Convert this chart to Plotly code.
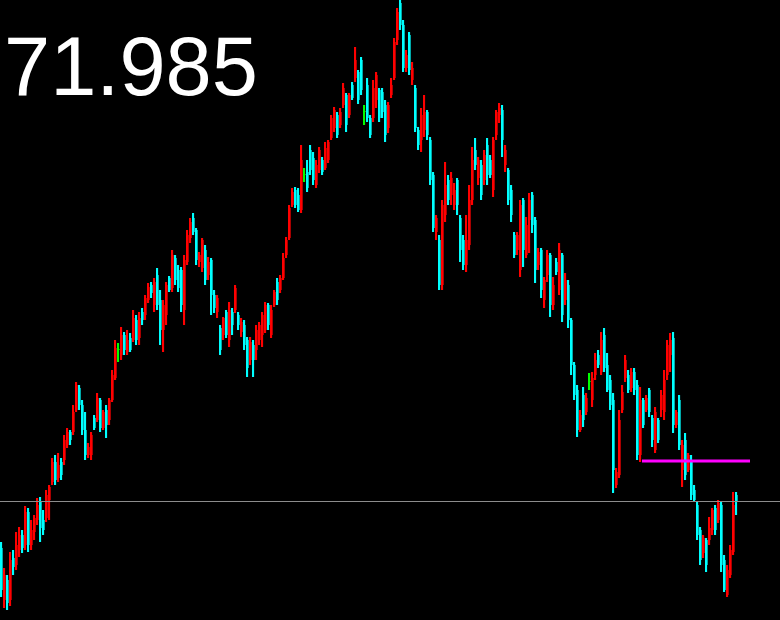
import plotly.graph_objects as go

# OHLC prices, one value per candle (246 candles)
open_ = [
    71.52, 71.00, 71.20, 71.00, 71.42, 71.35, 71.50, 71.65, 71.55, 71.88,
    71.55, 71.68, 71.80, 71.98, 71.80, 71.82, 72.00, 72.18, 72.38, 72.22,
    72.38, 72.40, 72.55, 72.68, 72.68, 72.90, 73.12, 72.95, 72.70, 72.45,
    72.45, 72.82, 72.80, 73.00, 72.72, 72.90, 72.80, 73.00, 73.22, 73.50,
    73.45, 73.65, 73.48, 73.62, 73.60, 73.80, 73.62, 73.88, 73.85, 74.00,
    74.15, 73.95, 74.25, 74.00, 73.70, 73.85, 74.22, 74.12, 74.42, 74.30,
    74.30, 73.90, 74.38, 74.62, 74.82, 74.70, 74.38, 74.32, 74.50, 74.25,
    74.40, 74.05, 73.88, 73.72, 73.65, 73.88, 73.60, 73.88, 73.90, 73.85,
    73.68, 73.75, 73.60, 73.40, 73.55, 73.50, 73.60, 73.65, 73.70, 73.95,
    73.65, 73.95, 74.18, 74.10, 74.22, 74.45, 74.62, 74.95, 75.10, 75.05,
    74.90, 75.25, 75.28, 75.50, 75.42, 75.15, 75.30, 75.40, 75.32, 75.40,
    75.62, 75.72, 75.85, 75.75, 75.95, 76.05, 75.85, 76.15, 76.22, 76.28,
    76.40, 75.88, 76.15, 75.82, 75.82, 76.00, 76.10, 76.08, 75.95, 75.72,
    76.05, 76.22, 76.60, 76.97, 76.75, 76.32, 76.65, 76.20, 76.12, 75.70,
    75.60, 75.70, 75.88, 75.60, 75.25, 74.68, 74.60, 74.15, 74.85, 75.20,
    75.05, 74.95, 75.20, 74.82, 74.60, 74.35, 74.55, 75.00, 75.50, 75.22,
    75.35, 75.20, 75.55, 75.40, 75.10, 75.65, 75.85, 75.90, 75.35, 75.30,
    75.10, 74.65, 74.50, 74.30, 75.00, 74.45, 74.80, 75.05, 74.80, 74.35,
    74.50, 74.00, 74.25, 74.45, 73.95, 74.38, 74.10, 74.45, 74.00, 74.15,
    73.80, 73.35, 73.10, 72.70, 73.05, 72.88, 73.18, 73.00, 73.25, 73.45,
    73.28, 73.65, 73.35, 73.20, 73.00, 72.15, 72.25, 72.90, 73.22, 73.25,
    73.12, 73.28, 73.15, 72.45, 73.00, 72.90, 73.10, 72.82, 72.50, 72.80,
    72.90, 72.88, 73.25, 73.45, 73.62, 72.75, 73.00, 72.30, 72.60, 72.30,
    72.40, 72.10, 71.95, 71.70, 71.47, 71.60, 71.60, 71.70, 71.92, 71.80,
    71.95, 71.40, 71.05, 71.25, 71.48, 72.05,
]
high = [
    71.58, 71.32, 71.25, 71.48, 71.50, 71.68, 71.73, 71.70, 71.94, 71.92,
    71.80, 71.85, 72.02, 72.03, 71.90, 72.10, 72.15, 72.42, 72.45, 72.47,
    72.42, 72.65, 72.72, 72.70, 72.95, 73.18, 73.15, 73.00, 72.88, 72.57,
    72.68, 72.85, 73.07, 73.02, 72.90, 72.95, 73.02, 73.30, 73.60, 73.57,
    73.73, 73.68, 73.70, 73.67, 73.90, 73.85, 73.88, 73.92, 74.05, 74.17,
    74.18, 74.22, 74.32, 74.10, 74.00, 74.18, 74.24, 74.50, 74.45, 74.35,
    74.33, 74.45, 74.70, 74.82, 74.87, 74.72, 74.48, 74.62, 74.55, 74.43,
    74.42, 74.10, 74.05, 73.75, 73.83, 73.90, 73.98, 73.92, 74.15, 73.88,
    73.82, 73.80, 73.63, 73.63, 73.60, 73.75, 73.78, 73.88, 73.98, 73.97,
    73.95, 74.10, 74.22, 74.25, 74.47, 74.63, 74.95, 75.12, 75.13, 75.12,
    75.55, 75.32, 75.40, 75.55, 75.48, 75.40, 75.53, 75.43, 75.58, 75.60,
    75.85, 75.93, 75.88, 75.92, 76.17, 76.07, 76.07, 76.18, 76.53, 76.30,
    76.43, 75.95, 76.22, 75.85, 76.20, 76.28, 76.12, 76.12, 76.00, 75.98,
    76.22, 76.62, 76.92, 77.00, 76.80, 76.50, 76.68, 76.38, 76.15, 75.73,
    75.92, 76.05, 75.90, 75.63, 75.28, 74.85, 74.65, 75.00, 75.38, 75.25,
    75.28, 75.17, 75.22, 74.85, 74.65, 74.85, 75.15, 75.53, 75.62, 75.43,
    75.40, 75.50, 75.62, 75.45, 75.63, 75.90, 75.97, 75.95, 75.55, 75.32,
    75.15, 74.68, 74.68, 75.00, 75.02, 74.83, 75.07, 75.08, 74.83, 74.52,
    74.52, 74.23, 74.50, 74.47, 74.23, 74.42, 74.57, 74.47, 74.27, 74.20,
    73.82, 73.38, 73.15, 72.90, 73.13, 73.07, 73.27, 73.28, 73.47, 73.50,
    73.68, 73.72, 73.47, 73.25, 73.07, 72.32, 72.90, 73.15, 73.45, 73.30,
    73.32, 73.32, 73.20, 73.13, 73.02, 73.05, 73.12, 72.85, 72.93, 72.82,
    73.10, 73.30, 73.60, 73.67, 73.68, 72.90, 73.05, 72.60, 72.67, 72.47,
    72.45, 72.15, 71.98, 71.73, 71.65, 71.62, 71.83, 71.92, 71.95, 72.00,
    71.98, 71.45, 71.35, 71.55, 72.08, 72.08,
]
low = [
    71.03, 70.92, 70.90, 70.94, 71.25, 71.30, 71.43, 71.47, 71.50, 71.48,
    71.50, 71.60, 71.75, 71.58, 71.65, 71.78, 71.80, 72.15, 72.15, 72.18,
    72.20, 72.35, 72.52, 72.55, 72.65, 72.88, 72.90, 72.65, 72.40, 72.42,
    72.40, 72.70, 72.78, 72.68, 72.70, 72.62, 72.75, 72.98, 73.20, 73.38,
    73.40, 73.45, 73.45, 73.48, 73.58, 73.55, 73.55, 73.75, 73.80, 73.97,
    74.02, 73.88, 73.90, 73.55, 73.48, 73.75, 74.08, 74.08, 74.15, 74.08,
    73.88, 73.75, 74.35, 74.57, 74.65, 74.35, 74.33, 74.28, 74.15, 74.20,
    73.85, 73.87, 73.82, 73.45, 73.60, 73.62, 73.53, 73.65, 73.87, 73.70,
    73.63, 73.50, 73.23, 73.35, 73.23, 73.40, 73.55, 73.53, 73.67, 73.70,
    73.62, 73.93, 73.95, 74.07, 74.20, 74.42, 74.60, 74.93, 74.92, 74.88,
    74.87, 75.18, 75.08, 75.25, 75.15, 75.12, 75.27, 75.25, 75.30, 75.37,
    75.60, 75.68, 75.62, 75.72, 75.92, 75.68, 75.82, 76.00, 76.18, 75.96,
    76.05, 75.75, 75.78, 75.62, 75.78, 75.92, 75.78, 75.82, 75.58, 75.67,
    76.02, 76.20, 76.55, 76.70, 76.28, 76.28, 76.25, 76.15, 75.68, 75.50,
    75.48, 75.63, 75.60, 75.15, 74.68, 74.60, 74.10, 74.10, 74.78, 74.95,
    74.95, 74.90, 74.85, 74.38, 74.30, 74.28, 74.50, 74.95, 75.30, 75.15,
    75.00, 75.15, 75.15, 75.22, 75.03, 75.60, 75.77, 75.43, 75.28, 74.95,
    74.78, 74.42, 74.45, 74.23, 74.33, 74.42, 74.47, 74.67, 74.17, 74.30,
    74.02, 73.92, 74.18, 73.83, 73.90, 74.25, 74.05, 73.78, 73.95, 73.72,
    73.25, 73.00, 72.63, 72.68, 72.73, 72.85, 73.10, 72.93, 73.20, 73.32,
    73.25, 73.28, 73.08, 72.90, 72.07, 72.12, 72.22, 72.87, 73.18, 73.07,
    73.08, 73.05, 72.40, 72.38, 72.72, 72.88, 72.83, 72.53, 72.47, 72.57,
    72.83, 72.80, 73.20, 73.28, 72.67, 72.72, 72.50, 72.13, 72.20, 72.28,
    72.00, 71.98, 71.60, 71.35, 71.42, 71.28, 71.55, 71.65, 71.65, 71.77,
    71.28, 71.08, 71.03, 71.22, 71.45, 71.85,
]
close = [
    71.10, 71.25, 70.97, 71.40, 71.33, 71.55, 71.65, 71.52, 71.88, 71.55,
    71.70, 71.82, 71.95, 71.72, 71.70, 72.05, 72.13, 72.38, 72.20, 72.35,
    72.25, 72.60, 72.68, 72.60, 72.88, 73.15, 72.95, 72.70, 72.45, 72.53,
    72.65, 72.72, 73.02, 72.72, 72.88, 72.75, 73.00, 73.25, 73.52, 73.50,
    73.65, 73.50, 73.60, 73.50, 73.82, 73.60, 73.82, 73.80, 74.02, 74.13,
    74.07, 74.18, 73.95, 73.70, 73.95, 74.15, 74.10, 74.45, 74.20, 74.12,
    73.95, 74.40, 74.65, 74.78, 74.68, 74.40, 74.45, 74.60, 74.20, 74.38,
    74.05, 73.92, 74.02, 73.50, 73.82, 73.65, 73.90, 73.75, 74.12, 73.75,
    73.78, 73.55, 73.32, 73.58, 73.40, 73.70, 73.75, 73.85, 73.95, 73.75,
    73.90, 74.08, 74.00, 74.22, 74.42, 74.60, 74.92, 75.08, 74.95, 74.90,
    75.40, 75.25, 75.12, 75.30, 75.20, 75.35, 75.50, 75.28, 75.52, 75.58,
    75.82, 75.90, 75.65, 75.88, 76.12, 75.75, 76.05, 76.02, 76.40, 76.00,
    76.10, 75.88, 75.82, 75.65, 76.12, 76.25, 75.82, 75.88, 75.65, 75.95,
    76.15, 76.58, 76.88, 76.75, 76.32, 76.45, 76.30, 76.32, 75.72, 75.55,
    75.85, 75.88, 75.65, 75.20, 74.72, 74.82, 74.15, 74.95, 75.15, 75.00,
    75.22, 75.10, 74.95, 74.50, 74.35, 74.60, 75.00, 75.40, 75.35, 75.40,
    75.05, 75.45, 75.25, 75.25, 75.60, 75.88, 75.92, 75.60, 75.50, 75.00,
    74.85, 74.45, 74.65, 74.95, 74.50, 74.75, 75.00, 74.75, 74.30, 74.48,
    74.10, 74.20, 74.45, 73.95, 74.15, 74.28, 74.50, 73.85, 74.20, 73.80,
    73.35, 73.05, 72.70, 72.85, 72.80, 73.02, 73.18, 73.22, 73.40, 73.35,
    73.60, 73.32, 73.10, 72.95, 72.30, 72.28, 72.80, 73.08, 73.40, 73.10,
    73.28, 73.10, 72.45, 73.00, 72.75, 73.02, 72.88, 72.60, 72.88, 72.60,
    73.05, 73.20, 73.55, 73.60, 72.75, 72.88, 72.55, 72.55, 72.25, 72.45,
    72.05, 72.00, 71.65, 71.40, 71.62, 71.35, 71.72, 71.90, 71.70, 71.97,
    71.35, 71.10, 71.30, 71.50, 71.95, 71.985,
]

level_price = 72.39          # horizontal magenta level
level_from, level_to = 213.5, 249.5   # candle index span of the level line
visible_bars = 260           # bars that fit in the window (incl. right shift)
price_min, price_max = 70.80, 77.00

UP, DOWN, DOJI = "#ff0000", "#00ffff", "#00ff00"
n = len(close)
idx = list(range(n))
colors = [UP if c > o else DOWN if c < o else DOJI for o, c in zip(open_, close)]

fig = go.Figure()
fig.add_trace(go.Bar(
    x=idx, base=low, y=[h - l for h, l in zip(high, low)], width=0.4,
    marker=dict(color=colors, line=dict(width=0)), hoverinfo="skip"))
fig.add_trace(go.Bar(
    x=idx, base=[min(o, c) for o, c in zip(open_, close)],
    y=[max(abs(c - o), 0.01) for o, c in zip(open_, close)], width=0.75,
    marker=dict(color=colors, line=dict(width=0)), hoverinfo="skip"))

fig.add_shape(type="line", xref="paper", x0=0, x1=1, y0=close[-1], y1=close[-1],
              line=dict(color="#8c8c8c", width=1))
fig.add_shape(type="line", x0=level_from, x1=level_to, y0=level_price, y1=level_price,
              line=dict(color="#ff00ff", width=3))

fig.add_annotation(text=f"{close[-1]:.3f}", xref="paper", yref="paper",
                   x=0, y=1 - 66 / 620, xanchor="left", yanchor="middle", xshift=2,
                   showarrow=False,
                   font=dict(family="Comic Sans MS, Liberation Sans, Arial", size=83, color="white"))

fig.update_layout(
    width=780, height=620, margin=dict(l=0, r=0, t=0, b=0),
    paper_bgcolor="black", plot_bgcolor="black", showlegend=False,
    barmode="overlay",
    xaxis=dict(range=[-0.5, visible_bars - 0.5], visible=False, fixedrange=True),
    yaxis=dict(range=[price_min, price_max], visible=False, fixedrange=True),
)

fig.write_html("out.html", config={"displayModeBar": False},
               post_script="document.body.style.margin='0';document.body.style.overflow='hidden';")
